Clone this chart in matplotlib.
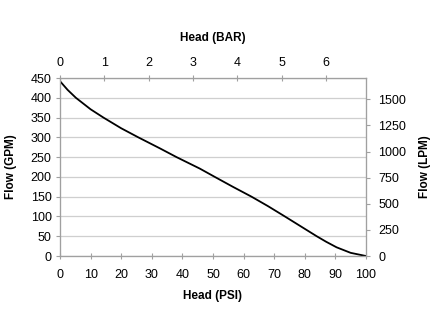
import matplotlib.pyplot as plt
import numpy as np

plt.rcParams['font.family'] = ['Liberation Sans', 'DejaVu Sans']
plt.rcParams['font.size'] = 9

# pump curve
head_psi = [0, 2.5, 5.2, 10, 14.2, 20, 25.6, 32.7, 38.1, 45.7, 50.6, 56.5,
            62.6, 68, 73.5, 78.7, 83.9, 87, 90.4, 95, 100]
flow_gpm = [442, 420, 400, 371, 350, 323, 300, 272, 250, 221, 200, 175,
            150, 126, 100, 75, 50, 36, 22, 8, 0]

psi_ticks = list(range(0, 101, 10))
gpm_ticks = list(range(0, 451, 50))
bar_ticks = list(range(0, 7))
lpm_ticks = list(range(0, 1501, 250))

PSI_PER_BAR = 14.5038
LPM_PER_GPM = 3.78541

frame = '#a0a0a0'
grid = '#cfcfcf'

fig = plt.figure(figsize=(4.34, 3.35), dpi=100)
ax = fig.add_axes([0.1382, 0.2358, 0.705, 0.5313])

ax.plot(head_psi, flow_gpm, color='black', lw=1.3, zorder=3,
        solid_joinstyle='round')
ax.set_xlim(0, 100)
ax.set_ylim(0, 450)
ax.set_xticks(psi_ticks)
ax.set_yticks(gpm_ticks)
ax.grid(True, axis='y', color=grid, lw=0.9)
ax.set_axisbelow(True)
ax.tick_params(axis='x', direction='inout', length=5, color=frame, pad=7)
ax.tick_params(axis='y', direction='out', length=3, color=frame, pad=3)
ax.set_xlabel('Head (PSI)', fontweight='bold', fontsize=8.5, labelpad=6.5)
ax.set_ylabel('Flow (GPM)', fontweight='bold', fontsize=8.5, labelpad=10)

# top axis in BAR
ax_top = ax.twiny()
ax_top.set_xlim(0, 100 / PSI_PER_BAR)
ax_top.set_xticks(bar_ticks)
ax_top.tick_params(axis='x', direction='inout', length=5, color=frame, pad=4)
ax_top.set_xlabel('Head (BAR)', fontweight='bold', fontsize=8.5, labelpad=11.5)

# right axis in LPM
ax_right = ax.twinx()
ax_right.set_ylim(0, 450 * LPM_PER_GPM)
ax_right.set_yticks(lpm_ticks)
ax_right.tick_params(axis='y', direction='out', length=3, color=frame, pad=6)
ax_right.set_ylabel('Flow (LPM)', fontweight='bold', fontsize=8.5, labelpad=9)
ax_right.yaxis.set_label_position('right')

for a in (ax, ax_top, ax_right):
    for s in a.spines.values():
        s.set_color(frame)
        s.set_linewidth(0.8)

fig.savefig('out.png', dpi=100)
